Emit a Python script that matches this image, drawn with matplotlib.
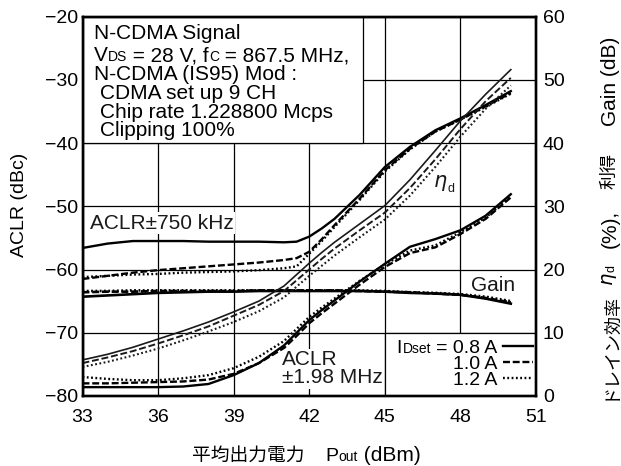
import matplotlib
matplotlib.use('Agg')
import matplotlib.pyplot as plt
from matplotlib.patches import Rectangle

plt.rcParams['font.family'] = ['Liberation Sans', 'Noto Sans CJK JP']
plt.rcParams['mathtext.fontset'] = 'dejavusans'
plt.rcParams['lines.scale_dashes'] = False
plt.rcParams['axes.unicode_minus'] = True

# ---------------- data ----------------
pout_dbm = [33, 34, 35, 36, 37, 38, 39, 40, 41, 41.5, 42, 42.5, 43, 44, 45, 46, 47, 48, 49, 50]

# ACLR +-750 kHz (dBc)
aclr750_08 = [-56.6, -55.9, -55.5, -55.5, -55.5, -55.6, -55.6, -55.6, -55.7, -55.6, -54.8, -53.5, -52.0, -48.2, -43.8, -40.6, -38.0, -36.1, -34.0, -31.8]
aclr750_10 = [-61.5, -61.0, -60.5, -60.1, -59.8, -59.5, -59.2, -58.9, -58.5, -58.2, -57.2, -55.2, -53.0, -48.8, -44.3, -40.9, -38.2, -36.3, -34.2, -32.1]
aclr750_12 = [-61.2, -61.0, -60.8, -60.7, -60.5, -60.4, -60.3, -60.1, -59.8, -59.5, -57.5, -55.5, -53.3, -49.0, -44.5, -41.0, -38.2, -36.3, -34.3, -32.2]

# ACLR +-1.98 MHz (dBc)
aclr198_08 = [-78.6, -78.6, -78.6, -78.6, -78.5, -78.1, -76.7, -74.8, -72.0, -70.0, -68.0, -66.4, -64.9, -61.9, -59.1, -56.4, -55.2, -53.8, -51.5, -48.1]
aclr198_10 = [-78.0, -78.0, -77.9, -77.8, -77.7, -77.4, -76.5, -74.8, -72.4, -70.5, -68.5, -66.9, -65.4, -62.4, -59.6, -57.4, -56.5, -54.4, -52.0, -48.6]
aclr198_12 = [-77.0, -77.3, -77.5, -77.5, -77.2, -76.7, -75.6, -73.8, -71.3, -69.4, -67.5, -66.0, -64.6, -61.8, -59.2, -57.0, -56.2, -54.1, -51.8, -48.4]

# Gain (dB)
gain_08 = [15.7, 15.9, 16.1, 16.3, 16.4, 16.5, 16.5, 16.6, 16.6, 16.6, 16.6, 16.6, 16.6, 16.6, 16.5, 16.3, 16.2, 16.0, 15.4, 14.6]
gain_10 = [16.4, 16.5, 16.5, 16.6, 16.6, 16.6, 16.6, 16.7, 16.7, 16.7, 16.7, 16.7, 16.7, 16.6, 16.5, 16.4, 16.2, 16.0, 15.5, 14.8]
gain_12 = [16.6, 16.6, 16.7, 16.7, 16.7, 16.7, 16.7, 16.7, 16.7, 16.7, 16.7, 16.7, 16.7, 16.7, 16.6, 16.4, 16.3, 16.1, 15.7, 15.0]

# Drain efficiency (%)
eff_08 = [5.7, 6.6, 7.7, 9.0, 10.3, 11.7, 13.3, 15.0, 17.4, 19.2, 21.0, 22.7, 24.3, 27.2, 30.1, 34.2, 38.8, 43.5, 47.7, 51.6]
eff_10 = [5.2, 6.1, 7.1, 8.3, 9.6, 11.0, 12.7, 14.4, 16.6, 18.3, 20.0, 21.7, 23.3, 26.2, 29.0, 32.9, 37.4, 42.2, 46.6, 50.3]
eff_12 = [4.6, 5.4, 6.4, 7.5, 8.8, 10.2, 11.7, 13.4, 15.6, 17.3, 19.0, 20.6, 22.2, 25.1, 27.9, 31.7, 36.2, 41.0, 45.4, 49.1]

current_labels = ['0.8 A', '1.0 A', '1.2 A']
x_ticks = [33, 36, 39, 42, 45, 48, 51]
aclr_ticks = [-80, -70, -60, -50, -40, -30, -20]
right_ticks = [0, 10, 20, 30, 40, 50, 60]

# ---------------- figure ----------------
W, H = 621, 466
fig = plt.figure(figsize=(W / 100, H / 100), dpi=100)


def fx(px):
    return px / W


def fy(py):
    return 1 - py / H


ax_l, ax_r, ax_t, ax_b = 82.5, 536, 16.5, 396
ax = fig.add_axes([fx(ax_l), fy(ax_b), fx(ax_r - ax_l), (ax_b - ax_t) / H])
ax2 = ax.twinx()

ax.set_xlim(33, 51)
ax.set_ylim(-80, -20)
ax2.set_ylim(0, 60)
ax.set_xticks(x_ticks)
ax.set_yticks(aclr_ticks)
ax2.set_yticks(right_ticks)
ax.tick_params(axis='x', length=0, pad=9, labelsize=14)
ax.tick_params(axis='y', length=0, pad=3, labelsize=14)
ax2.tick_params(axis='y', length=0, pad=5, labelsize=14)
for a in (ax, ax2):
    for s in a.spines.values():
        s.set_linewidth(1.7)
ax.set_axisbelow(True)
ax.grid(True, color='black', lw=0.9)

styles = ['-', (0, (5, 2)), (0, (1.3, 1.8))]

# boxes (text box and legend cell)
ax.add_patch(Rectangle((33, -40), 11.12, 20, facecolor='white', edgecolor='black', lw=0.9, zorder=1.5))
ax.add_patch(Rectangle((45, -80), 6, 10, facecolor='white', edgecolor='black', lw=0.9, zorder=1.5))

handles = []
for ys, ls in zip([aclr750_08, aclr750_10, aclr750_12], styles):
    h, = ax.plot(pout_dbm, ys, color='black', lw=1.7, ls=ls, zorder=2, dash_capstyle='butt')
    handles.append(h)
for ys, ls in zip([aclr198_08, aclr198_10, aclr198_12], styles):
    ax.plot(pout_dbm, ys, color='black', lw=1.7, ls=ls, zorder=2, dash_capstyle='butt')
for ys, ls in zip([gain_08, gain_10, gain_12], styles):
    ax2.plot(pout_dbm, ys, color='black', lw=1.9, ls=ls, zorder=2, dash_capstyle='butt')
for ys, ls, lw in zip([eff_08, eff_10, eff_12], styles, [1.2, 1.4, 1.5]):
    ax2.plot(pout_dbm, ys, color='#1a1a1a', lw=lw, ls=ls, zorder=2, dash_capstyle='butt')

# legend
leg = ax.legend(handles, ['= ' + current_labels[0], current_labels[1], current_labels[2]],
                loc='lower right', bbox_to_anchor=(0.9934, 0.018), frameon=False,
                markerfirst=False, fontsize=14, handlelength=1.55, handletextpad=0.3,
                labelspacing=-0.08, borderpad=0, borderaxespad=0)
leg.set_zorder(5)
D = 0.212


def chain_left(anchor, s, fs, prev_fs, gap=0):
    return ax.annotate(s, xy=(0, 0), xycoords=anchor, xytext=(-gap, D * (prev_fs - fs)),
                       textcoords='offset points', ha='right', va='bottom', fontsize=fs,
                       zorder=6)


t0 = leg.get_texts()[0]
tD = chain_left(t0, 'Dset', 10, 14, gap=3.5)
tI = chain_left(tD, 'I', 14, 10, gap=0.3)


def chain_right(anchor, s, fs, prev_fs, gap=0):
    return ax.annotate(s, xy=(1, 0), xycoords=anchor, xytext=(gap, D * (prev_fs - fs)),
                       textcoords='offset points', ha='left', va='bottom', fontsize=fs,
                       zorder=6)


# text box
box_lines = ['N-CDMA Signal', None, 'N-CDMA (IS95) Mod :', 'CDMA set up 9 CH',
             'Chip rate 1.228800 Mcps', 'Clipping 100%']
baselines = [39.3, 61.0, 80.0, 99.3, 117.6, 136.0]
lefts = [94.3, 94.3, 94.3, 100, 100, 100]
for s, yb, xl in zip(box_lines, baselines, lefts):
    if s is not None:
        fig.text(fx(xl), fy(yb), s, fontsize=15, va='baseline', ha='left', zorder=6)
t = fig.text(fx(94.3), fy(61.0), 'V', fontsize=15, va='baseline', ha='left', zorder=6)
t = chain_right(t, 'DS', 10, 15)
t = chain_right(t, ' = 28 V, f', 15, 10)
t = chain_right(t, 'C', 10, 15)
t = chain_right(t, ' = 867.5 MHz,', 15, 10)

# in-plot labels
ax.text(33.28, -52.7, 'ACLR\u00b1750 kHz', fontsize=15, va='center', ha='left', zorder=1.8,
        color='#1a1a1a', bbox=dict(facecolor='white', edgecolor='none', pad=1))
ax.text(40.9, -75.7, 'ACLR\n\u00b11.98 MHz', fontsize=15, va='center', ha='left', zorder=1.8,
        color='#1a1a1a', linespacing=0.95, bbox=dict(facecolor='white', edgecolor='none', pad=1))
ax.text(48.42, -62.5, 'Gain', fontsize=15, va='center', ha='left', zorder=3, color='#1a1a1a')
te = ax.text(46.9, -47.0, r'$\eta$', fontsize=15, va='baseline', ha='left', zorder=3, color='#1a1a1a')
ax.annotate('d', xy=(1, 0), xycoords=te, xytext=(0.5, -1), textcoords='offset points',
            ha='left', va='bottom', fontsize=9, zorder=6, color='#1a1a1a')

# axis labels
fig.text(fx(20), fy(205), 'ACLR (dBc)', fontsize=14, rotation=90, ha='center', va='center')

fig.text(fx(192), fy(461), '平均出力電力', fontsize=13.5, va='baseline', ha='left')
tp = fig.text(fx(325), fy(461), 'P', fontsize=14, va='baseline', ha='left')
tp = chain_right(tp, 'out', 10, 14, gap=0.3)
tp = chain_right(tp, ' (dBm)', 15, 10)

rx = 610
fig.text(fx(rx), fy(346), 'ドレイン効率', fontsize=13, rotation=90, ha='center', va='center')
fig.text(fx(rx - 0.5), fy(279.5), r'$\eta$', fontsize=14, rotation=90, ha='center', va='center')
fig.text(fx(rx + 1.5), fy(268), 'd', fontsize=9, rotation=90, ha='center', va='center')
fig.text(fx(rx), fy(229), '(%),', fontsize=15, rotation=90, ha='center', va='center')
fig.text(fx(rx), fy(170.7), '利得', fontsize=13, rotation=90, ha='center', va='center')
fig.text(fx(rx), fy(81.6), 'Gain (dB)', fontsize=15, rotation=90, ha='center', va='center')

fig.canvas.draw()
fig.savefig('out.png', dpi=100)
